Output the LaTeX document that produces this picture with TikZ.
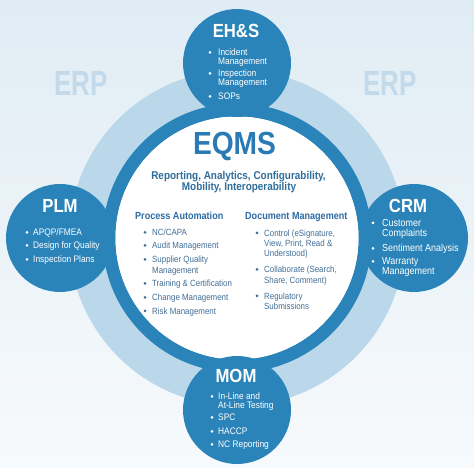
\documentclass[tikz,border=0pt]{standalone}
\usepackage{fontspec}
\setmainfont[FakeStretch=0.88]{Liberation Sans}
\newfontfamily\erpfont[FakeStretch=0.74]{Liberation Sans}
\definecolor{cblue}{HTML}{2A84B9}
\definecolor{lband}{HTML}{BBD8EA}
\definecolor{erpc}{HTML}{C2DAEA}
\definecolor{bgtop}{HTML}{E0ECF4}
\definecolor{bgbot}{HTML}{F7FAFC}
\definecolor{titc}{HTML}{2A7AB5}
\definecolor{subc}{HTML}{2F6E9C}
\definecolor{headc}{HTML}{2D6BA2}
\definecolor{itemc}{HTML}{426E96}
\newcommand\bitem[7]{% name, dotx, textx, baseline, color, size, text
  \fill[#5] (#2,#4-3.1) circle (1.5pt);
  \node[txt, text=#5, font=\fontsize{#6}{#6}\selectfont] (#1) at (#3,#4) {#7};}
\newcommand\contline[6]{% name, textx, baseline, color, size, text
  \node[txt, text=#4, font=\fontsize{#5}{#5}\selectfont] (#1) at (#2,#3) {#6};}
\begin{document}
\begin{tikzpicture}[x=1pt,y=-1pt,
  satc/.style={circle, fill=cblue, minimum size=108pt, inner sep=0pt},
  sattitle/.style={font=\bfseries\fontsize{19}{19}\selectfont, text=white, inner sep=0pt, anchor=base},
  txt/.style={inner sep=0pt, anchor=base west},
  head/.style={font=\bfseries\fontsize{10.3}{10.3}\selectfont, text=headc, inner sep=0pt, anchor=base west},
  subt/.style={font=\bfseries\fontsize{11.3}{11.3}\selectfont, text=subc, inner sep=0pt, anchor=base},
  erp/.style={font=\erpfont\bfseries\fontsize{35}{35}\selectfont, text=erpc, inner sep=0pt, anchor=base}]
\useasboundingbox (0,0) rectangle (474,468);
\shade[top color=bgtop, bottom color=bgbot] (0,0) rectangle (474,468);
\coordinate (c) at (237,238);
% rings
\fill[lband, even odd rule] (c) circle (168pt) (c) circle (130pt);
\draw[cblue, line width=13pt] (c) circle (128pt);
\fill[white] (c) circle (121.5pt);
% ERP labels
\node[erp] (erpL) at (81,96) {ERP};
\node[erp] (erpR) at (390,96) {ERP};
% satellites
\node[satc] (ehs) at (237,63) {};
\node[satc] (plm) at (60,238) {};
\node[satc] (crm) at (414,238) {};
\node[satc] (mom) at (237,410) {};
\node[sattitle] (ehsT) at (236,38) {EH\&S};
\node[sattitle] (plmT) at (60,212) {PLM};
\node[sattitle] (crmT) at (408,212) {CRM};
\node[sattitle] (momT) at (236,382) {MOM};
% EH&S items
\bitem{e1}{210}{218}{55.5}{white}{9.5}{Incident}
\contline{e1b}{218}{64.5}{white}{9.5}{Management}
\bitem{e2}{210}{218}{76.5}{white}{9.5}{Inspection}
\contline{e2b}{218}{85.5}{white}{9.5}{Management}
\bitem{e3}{210}{218}{99.5}{white}{9.5}{SOPs}
% PLM items
\bitem{p1}{27}{33}{235.5}{white}{9.5}{APQP/FMEA}
\bitem{p2}{27}{33}{248.5}{white}{9.5}{Design for Quality}
\bitem{p3}{27}{33}{262.5}{white}{9.5}{Inspection Plans}
% CRM items
\bitem{r1}{373}{382}{226}{white}{10.2}{Customer}
\contline{r1b}{382}{236}{white}{10.2}{Complaints}
\bitem{r2}{373}{382}{251.5}{white}{10.2}{Sentiment Analysis}
\bitem{r3}{373}{382}{264.5}{white}{10.2}{Warranty}
\contline{r3b}{382}{274.5}{white}{10.2}{Management}
% MOM items
\bitem{m1}{212}{218}{399.5}{white}{9.5}{In-Line and}
\contline{m1b}{218}{408.5}{white}{9.5}{At-Line Testing}
\bitem{m2}{212}{218}{420.5}{white}{9.5}{SPC}
\bitem{m3}{212}{218}{434.5}{white}{9.5}{HACCP}
\bitem{m4}{212}{218}{447.5}{white}{9.5}{NC Reporting}
% EQMS centre
\node[font=\bfseries\fontsize{32}{32}\selectfont, text=titc, inner sep=0pt, anchor=base] (eqms) at (234.5,155) {EQMS};
\node[subt] (sub1) at (238.5,179) {Reporting, Analytics, Configurability,};
\node[subt] (sub2) at (239,190.5) {Mobility, Interoperability};
\node[head] (pa) at (135,219.5) {Process Automation};
\node[head] (dm) at (245,219.5) {Document Management};
% Process automation
\bitem{a1}{145}{152}{235.5}{itemc}{9}{NC/CAPA}
\bitem{a2}{145}{152}{248.5}{itemc}{9}{Audit Management}
\bitem{a3}{145}{152}{262.5}{itemc}{9}{Supplier Quality}
\contline{a3b}{152}{273}{itemc}{9}{Management}
\bitem{a4}{145}{152}{286.5}{itemc}{9}{Training \& Certification}
\bitem{a5}{145}{152}{300.5}{itemc}{9}{Change Management}
\bitem{a6}{145}{152}{314}{itemc}{9}{Risk Management}
% Document management
\bitem{d1}{257}{264}{236}{itemc}{9}{Control (eSignature,}
\contline{d1b}{264}{246}{itemc}{9}{View, Print, Read \&}
\contline{d1c}{264}{256.5}{itemc}{9}{Understood)}
\bitem{d2}{257}{264}{272.5}{itemc}{9}{Collaborate (Search,}
\contline{d2b}{264}{283}{itemc}{9}{Share, Comment)}
\bitem{d3}{257}{264}{299}{itemc}{9}{Regulatory}
\contline{d3b}{264}{309.5}{itemc}{9}{Submissions}
\end{tikzpicture}
\end{document}
